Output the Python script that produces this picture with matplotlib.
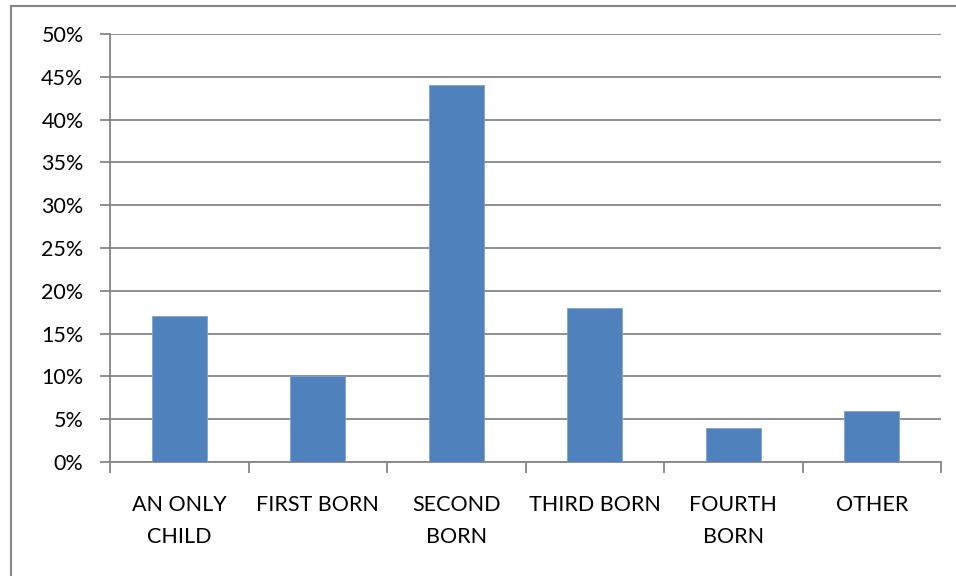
import matplotlib
matplotlib.use("Agg")
import matplotlib.pyplot as plt
from matplotlib.lines import Line2D
from matplotlib.ticker import FixedLocator, FuncFormatter
import numpy as np

categories = ["AN ONLY\nCHILD", "FIRST BORN", "SECOND\nBORN", "THIRD BORN", "FOURTH\nBORN", "OTHER"]
values = [17, 10, 44, 18, 4, 6]
y_ticks = [0, 5, 10, 15, 20, 25, 30, 35, 40, 45, 50]

plt.rcParams['font.family'] = ['Lato', 'DejaVu Sans']
grid_col = "#868686"
bar_col = "#4F81BD"

fig = plt.figure(figsize=(9.56, 5.76), dpi=100)
ax = fig.add_axes([110/956, 114/576, 831/956, 428/576])

x = np.arange(len(categories))
ax.bar(x, values, width=0.4, color=bar_col, edgecolor="#7FA3D0", linewidth=0.6, zorder=3)

ax.set_xlim(-0.5, len(categories) - 0.5)
ax.set_ylim(0, 50)
ax.yaxis.set_major_locator(FixedLocator(y_ticks))
ax.yaxis.set_major_formatter(FuncFormatter(lambda v, p: f"{int(v)}%"))
ax.grid(axis="y", color=grid_col, linewidth=1.3, zorder=0)

ax.set_xticks(x)
ax.set_xticklabels(categories, linespacing=1.78)
ax.set_xticks(np.arange(-0.5, len(categories)), minor=True)
ax.tick_params(axis="x", which="major", length=0, pad=23.5, labelsize=15.5)
ax.tick_params(axis="x", which="minor", length=8, width=1.3, color=grid_col)
ax.tick_params(axis="y", length=7, width=1.3, color=grid_col, pad=12, labelsize=15.5)

for s in ["top", "right"]:
    ax.spines[s].set_visible(False)
for s in ["left", "bottom"]:
    ax.spines[s].set_color(grid_col)
    ax.spines[s].set_linewidth(1.3)

# outer chart frame
fig.add_artist(Line2D([10.5/956, 10.5/956], [0, 1 - 5.5/576], color=grid_col, linewidth=1.5, transform=fig.transFigure))
fig.add_artist(Line2D([10.5/956, 1], [1 - 5.5/576, 1 - 5.5/576], color=grid_col, linewidth=1.5, transform=fig.transFigure))

fig.savefig("out.png", dpi=100)
